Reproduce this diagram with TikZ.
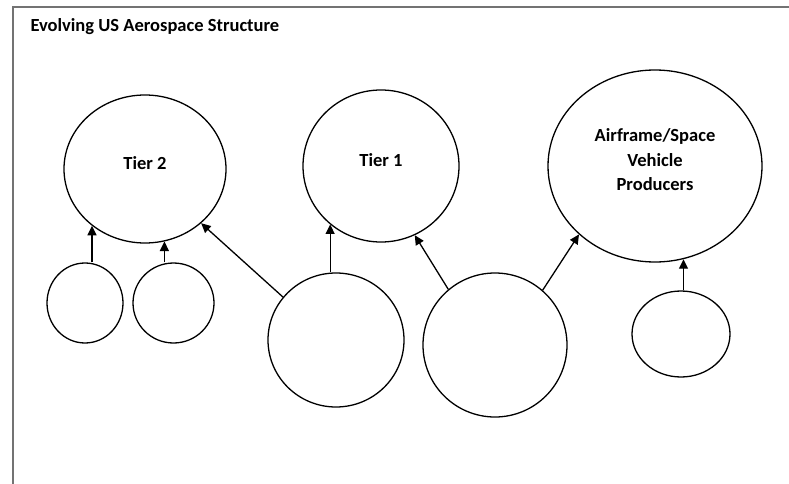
\documentclass[tikz,border=0pt]{standalone}
\usepackage{fontspec}
\setmainfont{Carlito}
\usetikzlibrary{arrows.meta,shapes.geometric}

\begin{document}
\begin{tikzpicture}[x=1pt, y=-1pt, every node/.style={font=\bfseries\fontsize{18.5}{24.5}\selectfont}, >={Triangle[length=9.5pt, width=9pt]}, firm/.style={draw, ellipse, line width=1.3pt, inner sep=0pt}, firmtext/.style={label={[yshift=6pt, align=center]center:#1}}, link/.style={->, line width=1.3pt}]
	\useasboundingbox (0,0) rectangle (789,484);
	\coordinate (fbot) at (13,484);
	\coordinate (fcorner) at (13,7);
	\coordinate (fright) at (789,7);
	\draw[black!55, line width=1.5pt] (fbot) -- (fcorner) -- (fright);
	\node[anchor=base west] (title) at (27,32) {Evolving US Aerospace Structure};
	\node[firm, firmtext={Tier 2}, minimum width=162pt, minimum height=148pt] (tier2) at (145,169) {};
	\node[firm, firmtext={Tier 1}, minimum width=156pt, minimum height=152pt] (tier1) at (381,166) {};
	\node[firm, firmtext={Airframe/Space\\Vehicle\\Producers}, minimum width=214pt, minimum height=192pt] (prod) at (655,166) {};
	\node[firm, minimum width=76pt, minimum height=80pt] (sa) at (85,303) {};
	\node[firm, minimum width=81pt, minimum height=80pt] (sb) at (173.5,303) {};
	\node[firm, minimum width=136pt, minimum height=134pt] (ma) at (336,340) {};
	\node[firm, minimum width=144pt, minimum height=144pt] (mb) at (495,345) {};
	\node[firm, minimum width=98pt, minimum height=86pt] (sc) at (681,334) {};
	\draw[link] (sa.north -| tier2.227) -- (tier2.227);
	\draw[link] (sb.north -| tier2.285) -- (tier2.285);
	\draw[link] (ma.141) -- (tier2.316);
	\draw[link] (ma.north -| tier1.229) -- (tier1.229);
	\draw[link] (mb.130) -- (tier1.296);
	\draw[link] (mb.49) -- (prod.222);
	\draw[link] (sc.north -| prod.287) -- (prod.287);
\end{tikzpicture}
\end{document}
